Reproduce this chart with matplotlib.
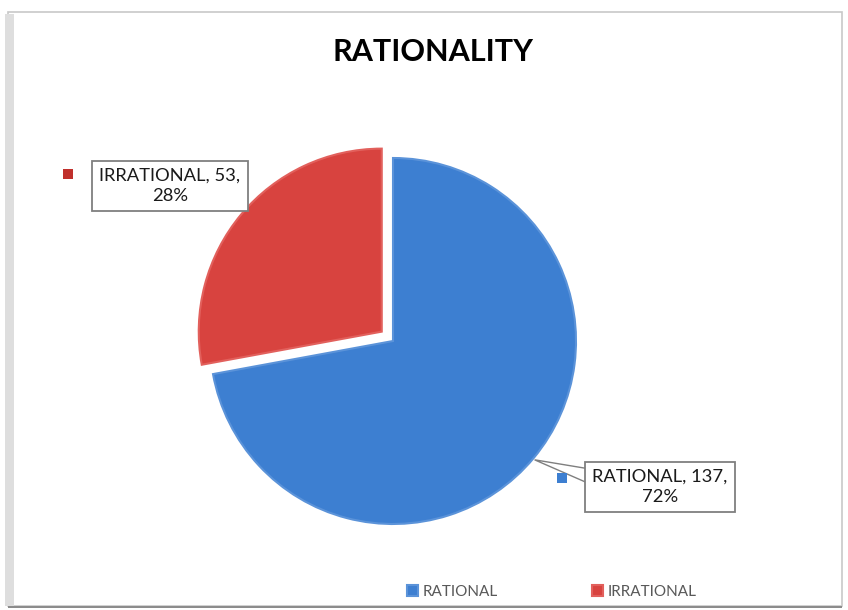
import matplotlib.pyplot as plt
from matplotlib.patches import Rectangle, Polygon
import numpy as np

# chart data
categories = ['RATIONAL', 'IRRATIONAL']
counts = [137, 53]
colors = ['#3d7fd1', '#d8433f']
edges = ['#5b93d9', '#e2605c']

W, H = 848, 610
fig = plt.figure(figsize=(W / 100, H / 100), dpi=100)

def fx(px):
    return px / W

def fy(py):
    return 1 - py / H

def sq(px, py, size, color):
    # square given by its top-left corner in pixels
    fig.patches.append(Rectangle((fx(px), fy(py + size)), size / W, size / H,
                                 transform=fig.transFigure, color=color, lw=0))

# outer chart frame
fig.patches.append(Rectangle((fx(8), fy(606)), fx(842) - fx(8), fy(12) - fy(606),
                             transform=fig.transFigure, fill=False,
                             edgecolor='#c8c8c8', linewidth=1.2))
fig.patches.append(Rectangle((fx(5), fy(606)), 9 / W, fy(14) - fy(606),
                             transform=fig.transFigure, color='#dedede', lw=0))
fig.patches.append(Rectangle((fx(8), fy(608)), fx(842) - fx(8), 2 / H,
                             transform=fig.transFigure, color='#8c8c8c', lw=0))

# pie axes: centre (393, 341) px, radius 183 px
cx, cy, r = 393, 341, 183
ax = fig.add_axes([0, 0, 1, 1])

wedges, _ = ax.pie(counts, colors=colors, startangle=90, counterclock=False,
                   explode=[0, 0.08], radius=1,
                   wedgeprops=dict(linewidth=1.5))
for w, ec in zip(wedges, edges):
    w.set_edgecolor(ec)
ax.set_xlim(-cx / r, (W - cx) / r)
ax.set_ylim(-(H - cy) / r, cy / r)
ax.set_aspect('equal')
ax.axis('off')

fig.text(fx(433), fy(52), 'RATIONALITY', ha='center', va='center',
         fontsize=22, fontweight='bold', family='Lato', color='black')

total = sum(counts)
labels = [f'{c}, {v},\n{round(100 * v / total)}%' for c, v in zip(categories, counts)]

# callout pointer for RATIONAL label
ang = np.deg2rad(-40)
tip = (np.cos(ang) * 1.01, np.sin(ang) * 1.01)
p1 = ((590 - cx) / r, (cy - 469) / r)
p2 = ((590 - cx) / r, (cy - 484) / r)
ax.add_patch(Polygon([tip, p1, p2], closed=True, facecolor='white',
                     edgecolor='#7f7f7f', linewidth=1.0, zorder=5, clip_on=False))

box = dict(boxstyle='square,pad=0.38', facecolor='white', edgecolor='#7f7f7f', linewidth=1.3)
fig.text(fx(660), fy(487), labels[0], ha='center', va='center', fontsize=13.2,
         family='Lato', color='#1a1a1a', linespacing=1.35, bbox=box, zorder=6)
fig.text(fx(170), fy(186), labels[1], ha='center', va='center', fontsize=13.2,
         family='Lato', color='#1a1a1a', linespacing=1.35, bbox=box, zorder=6)

# small key squares beside labels
sq(557, 473, 10, colors[0])
sq(63, 169, 10, '#c0302c')

# legend at bottom
leg = fig.legend(wedges, categories, loc='center', bbox_to_anchor=(fx(552), fy(592)),
                 ncol=2, frameon=False, handlelength=0.7, handleheight=0.7,
                 handletextpad=0.3, columnspacing=6.2,
                 prop=dict(family='Lato', size=11))
for t in leg.get_texts():
    t.set_color('#595959')

fig.savefig('out.png', dpi=100)
